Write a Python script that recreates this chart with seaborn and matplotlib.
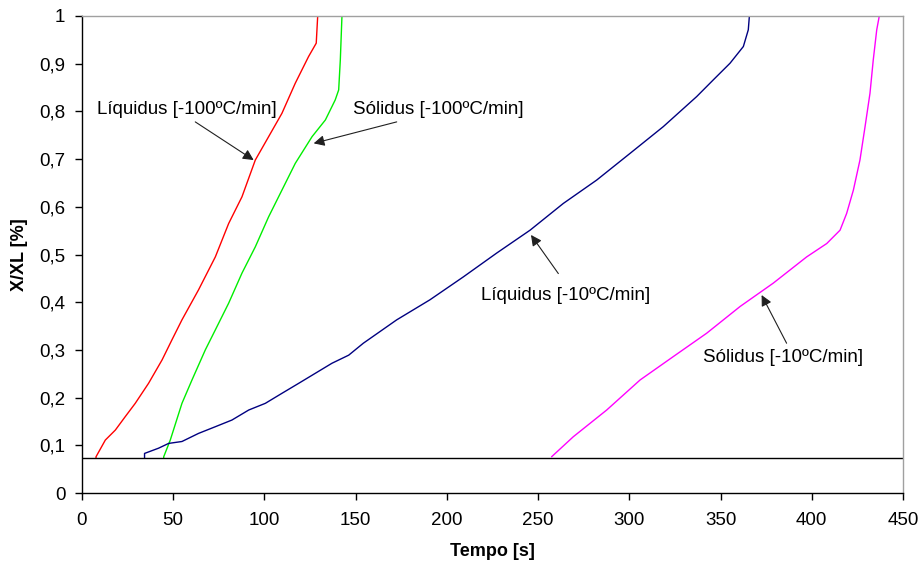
import matplotlib
matplotlib.use("Agg")
import matplotlib.pyplot as plt
from matplotlib.ticker import FuncFormatter, MultipleLocator
import pandas as pd
import seaborn as sns

# Fraction X/XL versus time for the two cooling rates
liq100_t = [7.7, 7.7, 12.8, 18.3, 23.7, 29.2, 36.5, 43.9, 49.3, 54.8, 63.9, 73.1, 80.4,
            87.7, 95.0, 102.3, 109.6, 116.9, 124.2, 128.4, 129.2]
liq100_y = [0.073, 0.076, 0.111, 0.132, 0.160, 0.188, 0.230, 0.279, 0.321, 0.363, 0.426,
            0.495, 0.565, 0.621, 0.698, 0.747, 0.796, 0.859, 0.915, 0.943, 1.0]

sol100_t = [44.8, 44.8, 48.4, 54.8, 60.3, 67.6, 73.1, 80.4, 87.7, 95.0, 102.3, 109.6,
            116.9, 126.1, 133.4, 138.8, 140.7, 141.6, 142.5]
sol100_y = [0.073, 0.076, 0.111, 0.188, 0.237, 0.300, 0.342, 0.398, 0.461, 0.516, 0.579,
            0.635, 0.691, 0.747, 0.782, 0.824, 0.845, 0.908, 1.0]

liq10_t = [34.3, 34.3, 42.0, 47.5, 54.8, 63.9, 73.1, 82.2, 91.4, 100.5, 109.6, 118.8,
           127.9, 137.0, 146.2, 154.2, 172.5, 190.7, 209.0, 227.3, 245.6, 263.8, 282.1,
           300.4, 318.6, 336.9, 346.0, 355.2, 362.5, 365.2, 365.8]
liq10_y = [0.073, 0.083, 0.094, 0.104, 0.108, 0.125, 0.139, 0.153, 0.174, 0.188, 0.209,
           0.230, 0.251, 0.272, 0.289, 0.314, 0.363, 0.405, 0.453, 0.503, 0.551, 0.607,
           0.656, 0.712, 0.768, 0.831, 0.866, 0.901, 0.936, 0.971, 1.0]

sol10_t = [257.4, 269.3, 287.6, 305.9, 324.1, 342.4, 360.7, 378.9, 397.2, 408.2, 415.5,
           419.1, 422.8, 426.4, 429.2, 431.9, 433.7, 435.6, 437.0]
sol10_y = [0.076, 0.118, 0.174, 0.237, 0.286, 0.335, 0.391, 0.440, 0.495, 0.523, 0.551,
           0.586, 0.635, 0.698, 0.768, 0.838, 0.908, 0.971, 1.0]

baseline_y = 0.073

series_names = ["Líquidus [-100ºC/min]", "Sólidus [-100ºC/min]",
                "Líquidus [-10ºC/min]", "Sólidus [-10ºC/min]"]
series_colors = ["#FF0000", "#00EE00", "#000080", "#FF00FF"]

sns.set_style("ticks")
plt.rcParams["font.family"] = ["Liberation Sans", "DejaVu Sans"]
plt.rcParams["text.color"] = "black"
plt.rcParams["axes.labelcolor"] = "black"

fig = plt.figure(figsize=(9.22, 5.65), dpi=100)
ax = fig.add_axes([0.0889, 0.1274, 0.8905, 0.8443])

for name, color, t, y in zip(series_names, series_colors,
                             [liq100_t, sol100_t, liq10_t, sol10_t],
                             [liq100_y, sol100_y, liq10_y, sol10_y]):
    sub = pd.DataFrame({"Tempo": t, "X": y})
    sns.lineplot(data=sub, x="Tempo", y="X", sort=False, estimator=None,
                 color=color, linewidth=1.0, ax=ax)

ax.axhline(baseline_y, color="black", linewidth=1.0)

ax.set_xlim(0, 450)
ax.set_ylim(0, 1)
ax.xaxis.set_major_locator(MultipleLocator(50))
ax.yaxis.set_major_locator(MultipleLocator(0.1))


def comma_fmt(v, pos):
    if abs(v) < 1e-9:
        return "0"
    if abs(v - 1) < 1e-9:
        return "1"
    return f"{v:.1f}".replace(".", ",")


ax.yaxis.set_major_formatter(FuncFormatter(comma_fmt))

ax.tick_params(axis="both", direction="out", length=5, width=1, colors="black",
               labelsize=13.5)
ax.tick_params(axis="x", pad=9)
ax.tick_params(axis="y", pad=7)
ax.spines["left"].set_color("black")
ax.spines["bottom"].set_color("black")
ax.spines["top"].set_color("#A0A0A0")
ax.spines["right"].set_color("#A0A0A0")
for s in ax.spines.values():
    s.set_linewidth(1.0)
    s.set_visible(True)

ax.set_xlabel("Tempo [s]", fontsize=13, fontweight="bold", labelpad=10, color="black")
ax.set_ylabel("X/XL [%]", fontsize=13, fontweight="bold", labelpad=8, color="black")

arrow = dict(arrowstyle="-|>", color="#202020", lw=0.8, mutation_scale=16,
             shrinkA=0, shrinkB=0)
label_pos = [(8.2, 0.803), (148.8, 0.803), (218.5, 0.415), (340.5, 0.284)]
arrow_tips = [(94.1, 0.698), (127.0, 0.733), (246.1, 0.541), (372.5, 0.415)]
arrow_tails = [(62.1, 0.778), (172.5, 0.778), (261.1, 0.460), (386.2, 0.314)]
for name, pos, tip, tail in zip(series_names, label_pos, arrow_tips, arrow_tails):
    ax.text(pos[0], pos[1], name, ha="left", va="center", fontsize=13.5, color="black")
    ax.annotate("", xy=tip, xytext=tail, arrowprops=arrow)

fig.savefig("out.png", dpi=100, facecolor="white")
